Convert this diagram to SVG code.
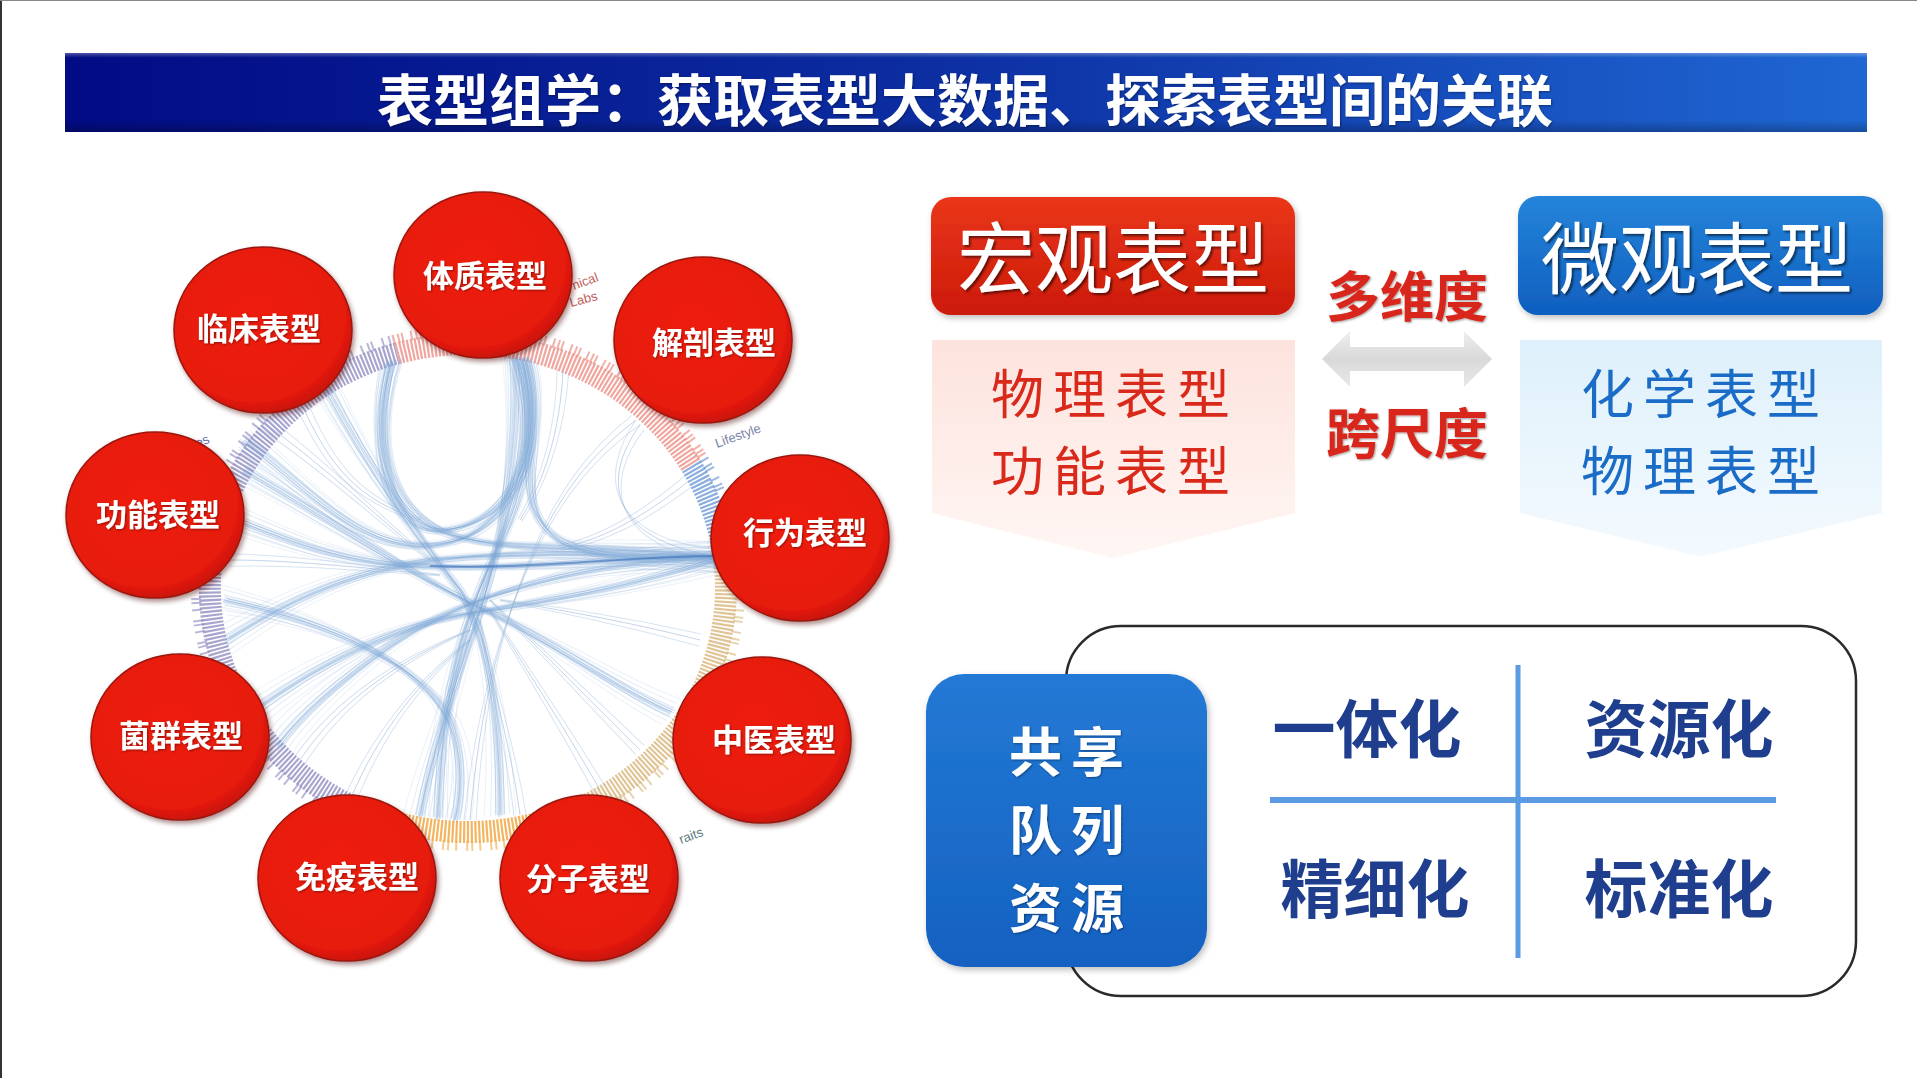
<svg xmlns="http://www.w3.org/2000/svg" width="1917" height="1078" viewBox="0 0 1917 1078">
<style>
.cjk{font-family:"Noto Sans CJK SC","Noto Sans",sans-serif;text-anchor:middle;dominant-baseline:central}
.lbl{font-size:31px;font-weight:700;fill:#fff;filter:url(#tsh1)}
.cir{fill:url(#gRed);stroke:#9a170c;stroke-width:1.5;filter:url(#sh)}
.cat{font-family:"Liberation Sans",Arial,sans-serif;font-size:13px}
.big{font-size:78px;font-weight:400;fill:#fff;filter:url(#tsh)}
.sub{font-size:53px;font-weight:400;letter-spacing:9px}
.dim{font-size:54px;font-weight:700;fill:#d8281a;filter:url(#tsh1)}
.quad{font-size:63px;font-weight:700;fill:#1f3e8e}
.share{font-size:53px;font-weight:700;fill:#fff;letter-spacing:9px;filter:url(#tsh1)}
</style>
<defs>
<linearGradient id="gTitle" x1="0" y1="0" x2="1" y2="0">
<stop offset="0" stop-color="#020b84"/><stop offset="0.45" stop-color="#0b2b9f"/><stop offset="1" stop-color="#1f67d3"/>
</linearGradient>
<linearGradient id="gTitleV" x1="0" y1="0" x2="0" y2="1">
<stop offset="0" stop-color="#fff" stop-opacity="0.3"/><stop offset="0.06" stop-color="#fff" stop-opacity="0"/><stop offset="0.85" stop-color="#000" stop-opacity="0"/><stop offset="1" stop-color="#000" stop-opacity="0.25"/>
</linearGradient>
<radialGradient id="gRed" cx="0.45" cy="0.42" r="0.6">
<stop offset="0" stop-color="#ef1f0c"/><stop offset="0.85" stop-color="#e61a0a"/><stop offset="1" stop-color="#c41408"/>
</radialGradient>
<linearGradient id="gMacro" x1="0" y1="0" x2="0" y2="1"><stop offset="0" stop-color="#ea361a"/><stop offset="1" stop-color="#cc1a0a"/></linearGradient>
<linearGradient id="gMicro" x1="0" y1="0" x2="0" y2="1"><stop offset="0" stop-color="#2584da"/><stop offset="1" stop-color="#0f5fbf"/></linearGradient>
<linearGradient id="gPink" x1="0" y1="0" x2="0" y2="1"><stop offset="0" stop-color="#fde3dd"/><stop offset="1" stop-color="#fff6f4"/></linearGradient>
<linearGradient id="gIce" x1="0" y1="0" x2="0" y2="1"><stop offset="0" stop-color="#def0fb"/><stop offset="1" stop-color="#f4fafe"/></linearGradient>
<linearGradient id="gShare" x1="0" y1="0" x2="0" y2="1"><stop offset="0" stop-color="#2379d5"/><stop offset="1" stop-color="#1561c1"/></linearGradient>
<linearGradient id="gArrow" x1="0" y1="0" x2="0" y2="1"><stop offset="0" stop-color="#eeeeee"/><stop offset="0.5" stop-color="#d9d9d9"/><stop offset="1" stop-color="#e8e8e8"/></linearGradient>
<filter id="sh" x="-20%" y="-20%" width="140%" height="140%"><feDropShadow dx="2" dy="3" stdDeviation="2.5" flood-color="#400" flood-opacity="0.45"/></filter>
<filter id="sh2" x="-20%" y="-20%" width="140%" height="140%"><feDropShadow dx="2" dy="3" stdDeviation="3" flood-color="#000" flood-opacity="0.25"/></filter>
<filter id="tsh" x="-10%" y="-10%" width="120%" height="130%"><feDropShadow dx="2" dy="2" stdDeviation="1.2" flood-color="#000" flood-opacity="0.55"/></filter>
<filter id="tsh1" x="-10%" y="-10%" width="120%" height="130%"><feDropShadow dx="1" dy="1" stdDeviation="0.8" flood-color="#000" flood-opacity="0.4"/></filter>
<g id="bundles">
<path d="M520 358C538 420 528 490 492 560C462 628 442 690 438 818"/>
<path d="M524 358C545 430 525 520 445 530C385 536 368 440 392 362"/>
<path d="M516 358C545 450 515 540 430 545C360 550 310 490 244 440"/>
<path d="M236 520C300 545 350 565 430 566C530 570 630 556 716 556"/>
<path d="M226 640C275 610 330 575 430 560C550 548 640 556 716 557"/>
<path d="M526 358C548 440 505 505 560 540C610 565 680 558 716 557"/>
<path d="M716 558C600 560 470 590 390 645C340 680 300 715 278 745"/>
<path d="M244 470C330 520 420 580 490 612C560 645 620 690 672 712"/>
<path d="M252 712C310 670 380 630 460 615C530 602 600 595 716 560"/>
<path d="M327 389C370 470 420 540 460 590C490 640 500 720 500 815"/>
<path d="M514 358C520 450 500 560 470 640C450 700 430 760 420 816"/>
<path d="M224 600C320 620 420 660 450 720C465 760 460 800 455 820"/>
<path d="M391 361C375 430 380 500 440 530C500 555 560 540 716 557"/>
</g>
<g id="thin">
<path d="M636 420C590 455 560 495 535 550C505 615 480 700 470 820"/>
<path d="M640 425C600 480 610 540 716 556"/>
<path d="M300 400C330 470 360 500 420 520"/>
<path d="M563 371C560 430 545 480 520 520"/>
<path d="M690 480C640 520 600 540 560 548"/>
<path d="M700 640C620 620 560 610 500 600"/>
<path d="M230 560C300 560 380 570 440 575"/>
<path d="M300 760C340 700 400 660 470 630"/>
<path d="M350 800C380 730 420 680 470 640"/>
<path d="M520 815C510 740 490 680 480 620"/>
<path d="M600 790C560 720 520 660 490 610"/>
<path d="M640 750C580 690 530 640 490 600"/>
<path d="M260 420C330 470 380 520 430 560"/>
</g>
</defs>

<rect width="1917" height="1078" fill="#fff"/>
<line x1="1" y1="0" x2="1" y2="1078" stroke="#333" stroke-width="2"/>
<line x1="0" y1="0.5" x2="1917" y2="0.5" stroke="#888" stroke-width="1"/>

<g id="title">
<rect x="65" y="53" width="1802" height="79" fill="url(#gTitle)"/>
<rect x="65" y="53" width="1802" height="79" fill="url(#gTitleV)"/>
<text class="cjk" x="965" y="96" font-size="56" font-weight="700" fill="#fff" filter="url(#tsh1)">表型组学：获取表型大数据、探索表型间的关联</text>
</g>

<g id="ring" fill="none">
<path d="M388.3 820.1A258 244 0 0 1 396.9 353.4" stroke="#8a86be" stroke-width="22" stroke-dasharray="2.2 1.6" opacity="0.75"/>
<path d="M384 833.4A272 258 0 0 1 393 340" stroke="#8a86be" stroke-width="10" stroke-dasharray="2 5 2 2 2 9" opacity="0.6"/>
<path d="M396.9 353.4A258 244 0 0 1 691.4 466" stroke="#ec8f86" stroke-width="22" stroke-dasharray="2.2 1.6" opacity="0.8"/>
<path d="M393 340A272 258 0 0 1 703.6 459" stroke="#ec8f86" stroke-width="10" stroke-dasharray="2 3 2 2 2 7" opacity="0.7"/>
<path d="M691.4 466A258 244 0 0 1 725 566.7" stroke="#6f9ad6" stroke-width="22" stroke-dasharray="2.2 1.6" opacity="0.8"/>
<path d="M703.6 459A272 258 0 0 1 739 565.5" stroke="#6f9ad6" stroke-width="10" stroke-dasharray="2 5 2 2 2 9" opacity="0.7"/>
<path d="M725 566.7A258 244 0 0 1 547.7 820.1" stroke="#d8b57a" stroke-width="22" stroke-dasharray="2.2 1.6" opacity="0.8"/>
<path d="M739 565.5A272 258 0 0 1 552 833.4" stroke="#d8b57a" stroke-width="10" stroke-dasharray="2 5 2 2 2 9" opacity="0.6"/>
<path d="M547.7 820.1A258 244 0 0 1 388.3 820.1" stroke="#f2a844" stroke-width="22" stroke-dasharray="2.2 1.6" opacity="0.85"/>
<path d="M552 833.4A272 258 0 0 1 384 833.4" stroke="#f2a844" stroke-width="10" stroke-dasharray="2 6 2 3 2 9" opacity="0.6"/>
</g>

<g id="chord" fill="none" stroke="#7ea8d6" stroke-width="1">
<use href="#bundles" stroke="#4a80c4" stroke-width="9" stroke-opacity="0.07"/>
<use href="#bundles" stroke-opacity="0.4"/>
<use href="#bundles" transform="translate(2 1)" stroke-opacity="0.3"/>
<use href="#bundles" transform="translate(-2 1)" stroke-opacity="0.3"/>
<use href="#bundles" transform="translate(1 -2)" stroke-opacity="0.3"/>
<use href="#bundles" transform="translate(-1 2)" stroke-opacity="0.3"/>
<use href="#bundles" transform="translate(4 -1)" stroke-opacity="0.25"/>
<use href="#bundles" transform="translate(-4 -1)" stroke-opacity="0.25"/>
<use href="#bundles" transform="rotate(1.2 468 588)" stroke-opacity="0.3"/>
<use href="#bundles" transform="rotate(-1.2 468 588)" stroke-opacity="0.3"/>
<use href="#bundles" transform="rotate(2.4 468 588)" stroke-opacity="0.22"/>
<use href="#bundles" transform="rotate(-2.4 468 588)" stroke-opacity="0.22"/>
<use href="#bundles" transform="rotate(1 468 588) translate(3 3)" stroke-opacity="0.22"/>
<use href="#bundles" transform="rotate(-1 468 588) translate(-3 3)" stroke-opacity="0.22"/>
<use href="#bundles" transform="rotate(3.5 468 588) translate(-2 0)" stroke-opacity="0.15"/>
<use href="#bundles" transform="rotate(-3.5 468 588) translate(2 0)" stroke-opacity="0.15"/>
<use href="#thin" stroke="#8fb2d8" stroke-opacity="0.55"/>
<use href="#thin" transform="rotate(1.5 468 588)" stroke="#8fb2d8" stroke-opacity="0.35"/>
<use href="#thin" transform="rotate(-1.5 468 588)" stroke="#8fb2d8" stroke-opacity="0.35"/>
<path d="M430 566C530 570 630 556 716 556" stroke="#3a6fb8" stroke-width="2" stroke-opacity="0.6"/>
</g>

<g id="category-labels">
<text class="cat" x="574" y="290" fill="#c0605a" transform="rotate(-20 574 290)">nical</text>
<text class="cat" x="571" y="307" fill="#c0605a" transform="rotate(-15 571 307)">Labs</text>
<text class="cat" x="717" y="448" fill="#7a84a8" transform="rotate(-20 717 448)">Lifestyle</text>
<text class="cat" x="681" y="844" fill="#5a7a80" transform="rotate(-20 681 844)">raits</text>
<text class="cat" x="198" y="448" fill="#6e6ea8" transform="rotate(-25 198 448)">es</text>
</g>

<g id="node-tizhi"><ellipse class="cir" cx="483" cy="275" rx="89" ry="83"/><text class="cjk lbl" x="485" y="273">体质表型</text></g>
<g id="node-linchuang"><ellipse class="cir" cx="263" cy="330" rx="89" ry="83"/><text class="cjk lbl" x="259" y="326">临床表型</text></g>
<g id="node-jiepou"><ellipse class="cir" cx="703" cy="340" rx="89" ry="83"/><text class="cjk lbl" x="714" y="340">解剖表型</text></g>
<g id="node-gongneng"><ellipse class="cir" cx="155" cy="515" rx="89" ry="83"/><text class="cjk lbl" x="158" y="512">功能表型</text></g>
<g id="node-xingwei"><ellipse class="cir" cx="800" cy="538" rx="89" ry="83"/><text class="cjk lbl" x="805" y="530">行为表型</text></g>
<g id="node-junqun"><ellipse class="cir" cx="180" cy="737" rx="89" ry="83"/><text class="cjk lbl" x="181" y="733">菌群表型</text></g>
<g id="node-zhongyi"><ellipse class="cir" cx="762" cy="740" rx="89" ry="83"/><text class="cjk lbl" x="774" y="737">中医表型</text></g>
<g id="node-mianyi"><ellipse class="cir" cx="347" cy="878" rx="89" ry="83"/><text class="cjk lbl" x="357" y="874">免疫表型</text></g>
<g id="node-fenzi"><ellipse class="cir" cx="589" cy="878" rx="89" ry="83"/><text class="cjk lbl" x="588" y="876">分子表型</text></g>

<g id="macro">
<path d="M932 340H1295V513L1113 558L932 513Z" fill="url(#gPink)"/>
<rect x="931" y="197" width="364" height="118" rx="20" fill="url(#gMacro)" filter="url(#sh2)"/>
<text class="cjk big" x="1113" y="254">宏观表型</text>
<text class="cjk sub" x="1115" y="391" fill="#d9291b">物理表型</text>
<text class="cjk sub" x="1115" y="468" fill="#d9291b">功能表型</text>
</g>

<g id="micro">
<path d="M1520 340H1882V513L1701 557L1520 513Z" fill="url(#gIce)"/>
<rect x="1518" y="196" width="365" height="119" rx="20" fill="url(#gMicro)" filter="url(#sh2)"/>
<text class="cjk big" x="1697" y="254">微观表型</text>
<text class="cjk sub" x="1705" y="391" fill="#1a6cc6">化学表型</text>
<text class="cjk sub" x="1705" y="468" fill="#1a6cc6">物理表型</text>
</g>

<g id="connectors">
<polygon points="1322,359 1350,331 1350,347 1464,347 1464,331 1492,359 1464,387 1464,371 1350,371 1350,387" fill="url(#gArrow)"/>
</g>
<g id="link-labels">
<text class="cjk dim" x="1407" y="293">多维度</text>
<text class="cjk dim" x="1407" y="430">跨尺度</text>
</g>

<g id="resources">
<rect x="1066" y="626" width="790" height="370" rx="55" fill="#fff" stroke="#2a2a2a" stroke-width="2.5"/>
<line x1="1518" y1="665" x2="1518" y2="958" stroke="#5b9be2" stroke-width="5"/>
<line x1="1270" y1="800" x2="1776" y2="800" stroke="#5b9be2" stroke-width="6"/>
<text class="cjk quad" x="1367" y="724">一体化</text>
<text class="cjk quad" x="1679" y="724">资源化</text>
<text class="cjk quad" x="1375" y="884">精细化</text>
<text class="cjk quad" x="1679" y="884">标准化</text>
</g>

<g id="shared-cohort">
<rect x="926" y="674" width="281" height="293" rx="38" fill="url(#gShare)" filter="url(#sh2)"/>
<text class="cjk share" x="1071" y="749">共享</text>
<text class="cjk share" x="1071" y="827">队列</text>
<text class="cjk share" x="1071" y="905">资源</text>
</g>
</svg>
